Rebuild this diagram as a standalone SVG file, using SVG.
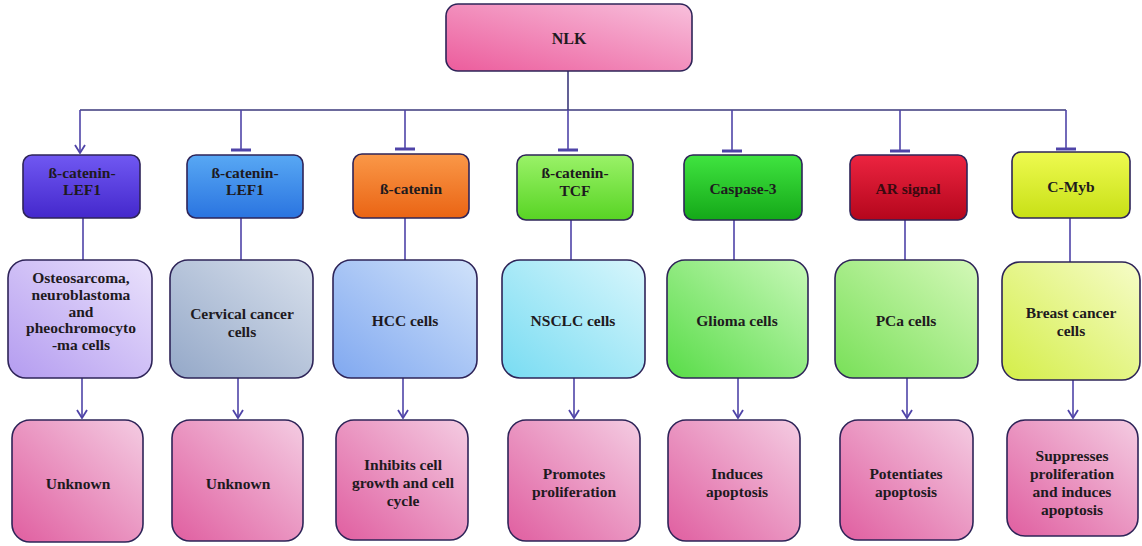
<svg xmlns="http://www.w3.org/2000/svg" width="1142" height="546" viewBox="0 0 1142 546">
  <defs>
    <style>
      .box { stroke: #2e2458; stroke-width: 1.6; }
      .lbl { font-family: "Liberation Serif", "Times New Roman", serif; font-weight: bold; font-size: 15.5px; fill: #1e1a1e; text-anchor: middle; dominant-baseline: central; }
      .wire { fill: none; stroke: #4f44a8; stroke-width: 1.6; }
      .bus { fill: none; stroke: #3c3a7c; stroke-width: 1.6; }
    </style>
    <!-- open V arrowhead, drawn along +x so orient="auto" follows the line -->
    <marker id="arrow" viewBox="0 0 10 12" refX="9" refY="6" markerWidth="10" markerHeight="12" markerUnits="userSpaceOnUse" orient="auto">
      <path d="M1,1 L9,6 L1,11" fill="none" stroke="#4f44a8" stroke-width="1.8"/>
    </marker>
    <marker id="tee" viewBox="0 0 20 4" refX="10" refY="2" markerWidth="20" markerHeight="4" markerUnits="userSpaceOnUse" orient="0">
      <rect x="0" y="0.5" width="20" height="3" fill="#4f44a8"/>
    </marker>

    <!-- top node -->
    <linearGradient id="gNlk" x1="0" y1="1" x2="1" y2="0">
      <stop offset="0" stop-color="#ec5c9c"/><stop offset="1" stop-color="#f8c0dc"/>
    </linearGradient>
    <!-- target row -->
    <linearGradient id="g1" x1="0" y1="0" x2="0" y2="1">
      <stop offset="0" stop-color="#7058f2"/><stop offset="1" stop-color="#4428cc"/>
    </linearGradient>
    <linearGradient id="g2" x1="0" y1="0" x2="0" y2="1">
      <stop offset="0" stop-color="#58a8f4"/><stop offset="1" stop-color="#2a74e0"/>
    </linearGradient>
    <linearGradient id="g3" x1="0" y1="0" x2="0" y2="1">
      <stop offset="0" stop-color="#fa9848"/><stop offset="1" stop-color="#ea6414"/>
    </linearGradient>
    <linearGradient id="g4" x1="0" y1="0" x2="0" y2="1">
      <stop offset="0" stop-color="#9af268"/><stop offset="1" stop-color="#58d424"/>
    </linearGradient>
    <linearGradient id="g5" x1="0" y1="0" x2="0" y2="1">
      <stop offset="0" stop-color="#40e440"/><stop offset="1" stop-color="#14a818"/>
    </linearGradient>
    <linearGradient id="g6" x1="0" y1="0" x2="0" y2="1">
      <stop offset="0" stop-color="#ec2440"/><stop offset="1" stop-color="#b4061c"/>
    </linearGradient>
    <linearGradient id="g7" x1="0" y1="0" x2="0" y2="1">
      <stop offset="0" stop-color="#eefa50"/><stop offset="1" stop-color="#c8e016"/>
    </linearGradient>
    <!-- cell row -->
    <linearGradient id="c1" x1="0" y1="1" x2="1" y2="0">
      <stop offset="0" stop-color="#b49cf0"/><stop offset="1" stop-color="#eae2fc"/>
    </linearGradient>
    <linearGradient id="c2" x1="0" y1="1" x2="1" y2="0">
      <stop offset="0" stop-color="#94a8c8"/><stop offset="1" stop-color="#d8e0ec"/>
    </linearGradient>
    <linearGradient id="c3" x1="0" y1="1" x2="1" y2="0">
      <stop offset="0" stop-color="#80a8f0"/><stop offset="1" stop-color="#d0e2fa"/>
    </linearGradient>
    <linearGradient id="c4" x1="0" y1="1" x2="1" y2="0">
      <stop offset="0" stop-color="#78dcf2"/><stop offset="1" stop-color="#d8f6fc"/>
    </linearGradient>
    <linearGradient id="c5" x1="0" y1="1" x2="1" y2="0">
      <stop offset="0" stop-color="#58dc48"/><stop offset="1" stop-color="#c8f8b8"/>
    </linearGradient>
    <linearGradient id="c6" x1="0" y1="1" x2="1" y2="0">
      <stop offset="0" stop-color="#78e058"/><stop offset="1" stop-color="#d4f8b8"/>
    </linearGradient>
    <linearGradient id="c7" x1="0" y1="1" x2="1" y2="0">
      <stop offset="0" stop-color="#d4ee48"/><stop offset="1" stop-color="#f6fcc8"/>
    </linearGradient>
    <!-- outcome row -->
    <linearGradient id="gOut" x1="0" y1="1" x2="1" y2="0">
      <stop offset="0" stop-color="#e05ea0"/><stop offset="1" stop-color="#f4cce2"/>
    </linearGradient>
  </defs>

  <rect width="1142" height="546" fill="#ffffff"/>

  <!-- connectors -->
  <g id="connectors">
    <path class="bus" d="M568,71 V110 M80,110 H1066"/>
    <path class="wire" d="M80,110 V153" marker-end="url(#arrow)"/>
    <path class="wire" d="M241,110 V150" marker-end="url(#tee)"/>
    <path class="wire" d="M405,110 V149" marker-end="url(#tee)"/>
    <path class="wire" d="M568,110 V150" marker-end="url(#tee)"/>
    <path class="wire" d="M732,110 V151" marker-end="url(#tee)"/>
    <path class="wire" d="M900,110 V151" marker-end="url(#tee)"/>
    <path class="wire" d="M1066,110 V149" marker-end="url(#tee)"/>

    <path class="wire" d="M83,218 V260 M241,218 V260 M405,218 V260 M571,220 V260 M734,220 V260 M905,220 V260 M1070,218 V262"/>

    <path class="wire" d="M82,378 V418" marker-end="url(#arrow)"/>
    <path class="wire" d="M238,378 V418" marker-end="url(#arrow)"/>
    <path class="wire" d="M403,378 V418" marker-end="url(#arrow)"/>
    <path class="wire" d="M574,378 V418" marker-end="url(#arrow)"/>
    <path class="wire" d="M738,378 V418" marker-end="url(#arrow)"/>
    <path class="wire" d="M907,378 V418" marker-end="url(#arrow)"/>
    <path class="wire" d="M1073,380 V418" marker-end="url(#arrow)"/>
  </g>

  <!-- top node -->
  <g id="nlk">
    <rect class="box" x="446" y="4" width="246" height="67" rx="12" fill="url(#gNlk)"/>
    <text class="lbl" x="569" y="38" style="font-size:16px">NLK</text>
  </g>

  <!-- target row -->
  <g id="t1">
    <rect class="box" x="23" y="155" width="117" height="63" rx="9" fill="url(#g1)"/>
    <text class="lbl" x="82" y="172">ß-catenin-</text>
    <text class="lbl" x="82" y="189">LEF1</text>
  </g>
  <g id="t2">
    <rect class="box" x="187" y="155" width="116" height="63" rx="9" fill="url(#g2)"/>
    <text class="lbl" x="245" y="172">ß-catenin-</text>
    <text class="lbl" x="245" y="189">LEF1</text>
  </g>
  <g id="t3">
    <rect class="box" x="353" y="154" width="116" height="64" rx="9" fill="url(#g3)"/>
    <text class="lbl" x="411" y="188">ß-catenin</text>
  </g>
  <g id="t4">
    <rect class="box" x="517" y="155" width="116" height="65" rx="9" fill="url(#g4)"/>
    <text class="lbl" x="575" y="172">ß-catenin-</text>
    <text class="lbl" x="575" y="190">TCF</text>
  </g>
  <g id="t5">
    <rect class="box" x="684" y="155" width="118" height="65" rx="9" fill="url(#g5)"/>
    <text class="lbl" x="743" y="188">Caspase-3</text>
  </g>
  <g id="t6">
    <rect class="box" x="850" y="155" width="117" height="65" rx="9" fill="url(#g6)"/>
    <text class="lbl" x="908" y="188" style="fill:#3a0a10">AR signal</text>
  </g>
  <g id="t7">
    <rect class="box" x="1012" y="152" width="118" height="66" rx="9" fill="url(#g7)"/>
    <text class="lbl" x="1071" y="186">C-Myb</text>
  </g>

  <!-- cell row -->
  <g id="m1">
    <rect class="box" x="8" y="260" width="144" height="118" rx="18" fill="url(#c1)"/>
    <text class="lbl" x="81" y="277">Osteosarcoma,</text>
    <text class="lbl" x="81" y="294">neuroblastoma</text>
    <text class="lbl" x="81" y="311">and</text>
    <text class="lbl" x="81" y="327">pheochromocyto</text>
    <text class="lbl" x="81" y="344">-ma cells</text>
  </g>
  <g id="m2">
    <rect class="box" x="170" y="260" width="143" height="118" rx="18" fill="url(#c2)"/>
    <text class="lbl" x="242" y="313">Cervical cancer</text>
    <text class="lbl" x="242" y="331">cells</text>
  </g>
  <g id="m3">
    <rect class="box" x="333" y="260" width="144" height="118" rx="18" fill="url(#c3)"/>
    <text class="lbl" x="405" y="320">HCC cells</text>
  </g>
  <g id="m4">
    <rect class="box" x="502" y="260" width="143" height="118" rx="18" fill="url(#c4)"/>
    <text class="lbl" x="573" y="320">NSCLC cells</text>
  </g>
  <g id="m5">
    <rect class="box" x="667" y="260" width="141" height="118" rx="18" fill="url(#c5)"/>
    <text class="lbl" x="737" y="320">Glioma cells</text>
  </g>
  <g id="m6">
    <rect class="box" x="835" y="260" width="143" height="118" rx="18" fill="url(#c6)"/>
    <text class="lbl" x="906" y="320">PCa cells</text>
  </g>
  <g id="m7">
    <rect class="box" x="1002" y="262" width="138" height="118" rx="18" fill="url(#c7)"/>
    <text class="lbl" x="1071" y="312">Breast cancer</text>
    <text class="lbl" x="1071" y="330">cells</text>
  </g>

  <!-- outcome row -->
  <g id="o1">
    <rect class="box" x="12" y="420" width="131" height="122" rx="18" fill="url(#gOut)"/>
    <text class="lbl" x="78" y="483">Unknown</text>
  </g>
  <g id="o2">
    <rect class="box" x="172" y="420" width="131" height="121" rx="18" fill="url(#gOut)"/>
    <text class="lbl" x="238" y="483">Unknown</text>
  </g>
  <g id="o3">
    <rect class="box" x="336" y="420" width="132" height="120" rx="18" fill="url(#gOut)"/>
    <text class="lbl" x="403" y="464">Inhibits cell</text>
    <text class="lbl" x="403" y="482">growth and cell</text>
    <text class="lbl" x="403" y="500">cycle</text>
  </g>
  <g id="o4">
    <rect class="box" x="508" y="420" width="132" height="121" rx="18" fill="url(#gOut)"/>
    <text class="lbl" x="574" y="473">Promotes</text>
    <text class="lbl" x="574" y="491">proliferation</text>
  </g>
  <g id="o5">
    <rect class="box" x="668" y="420" width="132" height="121" rx="18" fill="url(#gOut)"/>
    <text class="lbl" x="737" y="473">Induces</text>
    <text class="lbl" x="737" y="491">apoptosis</text>
  </g>
  <g id="o6">
    <rect class="box" x="840" y="420" width="133" height="120" rx="18" fill="url(#gOut)"/>
    <text class="lbl" x="906" y="473">Potentiates</text>
    <text class="lbl" x="906" y="491">apoptosis</text>
  </g>
  <g id="o7">
    <rect class="box" x="1007" y="420" width="131" height="116" rx="18" fill="url(#gOut)"/>
    <text class="lbl" x="1072" y="455">Suppresses</text>
    <text class="lbl" x="1072" y="473">proliferation</text>
    <text class="lbl" x="1072" y="491">and induces</text>
    <text class="lbl" x="1072" y="509">apoptosis</text>
  </g>
</svg>
